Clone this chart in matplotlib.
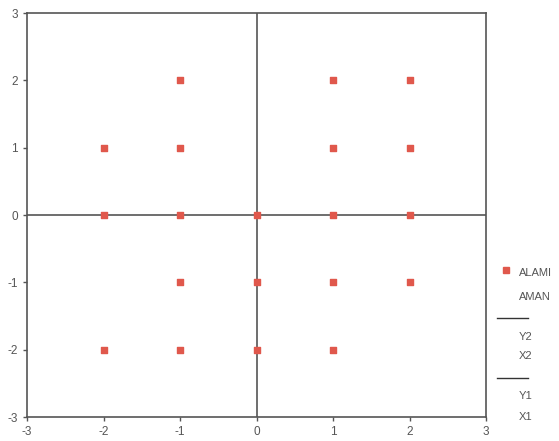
import matplotlib.pyplot as plt
from matplotlib.lines import Line2D

# titik data (ALAMI)
x_pts = [-2, -1, -1, -2, -1, 0, 1, 2, 1, 2, 1, 2, -1, 0, 1, 2, -2, -1, 0, 1]
y_pts = [1, 2, 1, 0, 0, 0, 2, 2, 1, 1, 0, 0, -1, -1, -1, -1, -2, -2, -2, -2]

ticks = [-3, -2, -1, 0, 1, 2, 3]
legend_labels = ["ALAMI", "AMAN", "Y2", "X2", "Y1", "X1"]

plt.rcParams['font.family'] = ['Liberation Sans', 'DejaVu Sans']
plt.rcParams['axes.unicode_minus'] = False

fig = plt.figure(figsize=(5.59, 4.41), dpi=100)
ax = fig.add_axes([27 / 559, 1 - 417 / 441, 459 / 559, 404 / 441])

ax.axhline(0, color='#555555', lw=1.2)
ax.axvline(0, color='#555555', lw=1.2)
ax.scatter(x_pts, y_pts, marker='s', s=18, color='#e0584c', zorder=3)

ax.set_xlim(-3, 3)
ax.set_ylim(-3, 3)
ax.set_xticks(ticks)
ax.set_yticks(ticks)
ax.tick_params(colors='#555555', labelsize=8.5, length=3, width=1)
for s in ax.spines.values():
    s.set_color('#555555')
    s.set_linewidth(1.2)

# legenda manual di kanan
gray = '#555555'
fig.add_artist(Line2D([506 / 559], [1 - 270 / 441], marker='s', ms=4,
                      color='#e0584c', transform=fig.transFigure))
ys = [273, 297, 337, 356, 396, 417]
for lab, y in zip(legend_labels, ys):
    fig.text(519 / 559, 1 - y / 441, lab, fontsize=8, color=gray, va='center')
for y in [318, 378]:
    fig.add_artist(Line2D([497 / 559, 528 / 559], [1 - y / 441] * 2,
                          color='#333333', lw=1, transform=fig.transFigure))

fig.savefig('out.png', dpi=100)
